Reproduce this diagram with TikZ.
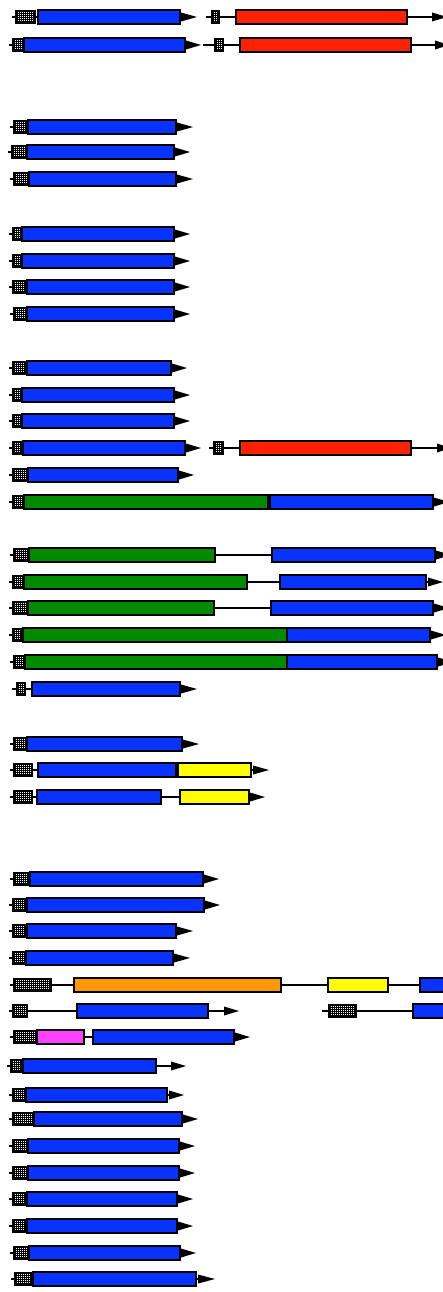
\documentclass[tikz,border=0pt]{standalone}
\definecolor{gblue}{RGB}{8,51,255}
\definecolor{gred}{RGB}{255,34,0}
\definecolor{ggreen}{RGB}{0,138,0}
\definecolor{gyellow}{RGB}{255,255,0}
\definecolor{gorange}{RGB}{255,153,0}
\definecolor{gpink}{RGB}{255,64,255}
\tikzset{
  bb/.style={line width=1.4pt,black},
  exon/.style={line width=1.3pt,draw=black},
  dotcell/.style={white}
}
% backbone with arrow: y, xstart, xarrow, xtip
\newcommand\gene[4]{\draw[bb] (#2,#1) -- (#3,#1);
  \fill[black] (#3,#1-4.5) -- (#4,#1) -- (#3,#1+4.5) -- cycle;}
% backbone only: y, xstart, xend
\newcommand\gbone[3]{\draw[bb] (#2,#1) -- (#3,#1);}
% untranslated box: y, x1, x2
\newcommand\utrbox[3]{\fill[black] (#2,#1-7) rectangle (#3,#1+7);
  \pgfmathsetmacro\ua{#2+2.6}\pgfmathsetmacro\ub{#3-3.4}%
  \pgfmathsetmacro\uc{\ua+2}%
  \foreach \xx in {\ua,\uc,...,\ub}{\foreach \yy in {-4.2,-2.2,-0.2,1.8,3.8}{%
    \fill[dotcell] (\xx,#1+\yy) rectangle +(1.2,-1.2);}}}
% exon box: y, x1, x2, colour
\newcommand\exonbox[4]{\draw[exon,fill=#4] (#2,#1-7) rectangle (#3,#1+7);}
\begin{document}
\begin{tikzpicture}[x=1pt,y=-1pt]
\useasboundingbox (0,0) rectangle (443,1292);
% 1
\gene{17}{12}{181}{197}\utrbox{17}{15}{36}\exonbox{17}{38}{180}{gblue}
\gene{17}{206}{432}{447}\utrbox{17}{211}{220}\exonbox{17}{236}{407}{gred}
% 2
\gene{45}{9}{186}{201}\utrbox{45}{12}{24}\exonbox{45}{24}{185}{gblue}
\gene{45}{203}{435}{449}\utrbox{45}{214}{224}\exonbox{45}{240}{411}{gred}
% 3-5
\gene{127}{10}{177}{193}\utrbox{127}{13}{28}\exonbox{127}{28}{176}{gblue}
\gene{152}{8}{175}{190}\utrbox{152}{11}{27}\exonbox{152}{27}{174}{gblue}
\gene{179}{10}{177}{193}\utrbox{179}{13}{29}\exonbox{179}{29}{176}{gblue}
% 6-9
\gene{234}{9}{175}{190}\utrbox{234}{12}{22}\exonbox{234}{22}{174}{gblue}
\gene{261}{9}{175}{190}\utrbox{261}{12}{22}\exonbox{261}{22}{174}{gblue}
\gene{287}{9}{175}{190}\utrbox{287}{12}{27}\exonbox{287}{27}{174}{gblue}
\gene{314}{10}{175}{190}\utrbox{314}{13}{27}\exonbox{314}{27}{174}{gblue}
% 10-15
\gene{368}{9}{172}{187}\utrbox{368}{12}{27}\exonbox{368}{27}{171}{gblue}
\gene{395}{9}{175}{190}\utrbox{395}{12}{22}\exonbox{395}{22}{174}{gblue}
\gene{421}{9}{175}{190}\utrbox{421}{12}{22}\exonbox{421}{22}{174}{gblue}
\gene{448}{9}{186}{201}\utrbox{448}{12}{23}\exonbox{448}{23}{185}{gblue}
\gene{448}{209}{437}{451}\utrbox{448}{213}{224}\exonbox{448}{240}{411}{gred}
\gene{475}{9}{179}{194}\utrbox{475}{12}{28}\exonbox{475}{28}{178}{gblue}
\gene{502}{9}{434}{449}\utrbox{502}{12}{24}\exonbox{502}{24}{268}{ggreen}\exonbox{502}{270}{433}{gblue}
% 16-21
\gene{555}{10}{436}{451}\utrbox{555}{13}{29}\exonbox{555}{29}{215}{ggreen}\exonbox{555}{272}{435}{gblue}
\gene{582}{9}{428}{443}\utrbox{582}{12}{24}\exonbox{582}{24}{247}{ggreen}\exonbox{582}{280}{426}{gblue}
\gene{608}{9}{434}{449}\utrbox{608}{12}{28}\exonbox{608}{28}{214}{ggreen}\exonbox{608}{271}{433}{gblue}
\gene{635}{9}{431}{446}\utrbox{635}{12}{23}\exonbox{635}{23}{287}{ggreen}\exonbox{635}{287}{430}{gblue}
\gene{662}{10}{438}{453}\utrbox{662}{13}{25}\exonbox{662}{25}{287}{ggreen}\exonbox{662}{287}{437}{gblue}
\gene{689}{12}{181}{197}\utrbox{689}{16}{26}\exonbox{689}{32}{180}{gblue}
% 22-24
\gene{744}{10}{183}{199}\utrbox{744}{13}{27}\exonbox{744}{27}{182}{gblue}
\gene{770}{10}{253}{269}\utrbox{770}{13}{33}\exonbox{770}{38}{176}{gblue}\exonbox{770}{178}{251}{gyellow}
\gene{797}{10}{250}{265}\utrbox{797}{13}{33}\exonbox{797}{37}{161}{gblue}\exonbox{797}{180}{249}{gyellow}
% 25-31
\gene{879}{10}{204}{219}\utrbox{879}{13}{30}\exonbox{879}{30}{203}{gblue}
\gene{905}{9}{205}{220}\utrbox{905}{12}{27}\exonbox{905}{27}{204}{gblue}
\gene{931}{9}{177}{193}\utrbox{931}{12}{27}\exonbox{931}{27}{176}{gblue}
\gene{958}{9}{174}{190}\utrbox{958}{12}{26}\exonbox{958}{26}{173}{gblue}
\gbone{985}{10}{443}\utrbox{985}{13}{52}\exonbox{985}{74}{281}{gorange}\exonbox{985}{328}{388}{gyellow}\exonbox{985}{420}{460}{gblue}
\gene{1011}{9}{224}{239}\utrbox{1011}{12}{28}\exonbox{1011}{77}{208}{gblue}
\gbone{1011}{322}{443}\utrbox{1011}{328}{357}\exonbox{1011}{413}{460}{gblue}
\gene{1037}{10}{235}{250}\utrbox{1037}{13}{37}\exonbox{1037}{37}{84}{gpink}\exonbox{1037}{93}{234}{gblue}
% 32-40
\gene{1066}{7}{171}{186}\utrbox{1066}{10}{23}\exonbox{1066}{23}{156}{gblue}
\gene{1095}{9}{169}{184}\utrbox{1095}{12}{26}\exonbox{1095}{26}{167}{gblue}
\gene{1119}{9}{183}{198}\utrbox{1119}{12}{34}\exonbox{1119}{34}{182}{gblue}
\gene{1146}{9}{180}{195}\utrbox{1146}{12}{28}\exonbox{1146}{28}{179}{gblue}
\gene{1173}{9}{180}{195}\utrbox{1173}{12}{28}\exonbox{1173}{28}{179}{gblue}
\gene{1199}{9}{178}{193}\utrbox{1199}{12}{27}\exonbox{1199}{27}{177}{gblue}
\gene{1226}{9}{178}{193}\utrbox{1226}{12}{27}\exonbox{1226}{27}{177}{gblue}
\gene{1253}{10}{181}{196}\utrbox{1253}{13}{29}\exonbox{1253}{29}{180}{gblue}
\gene{1279}{11}{198}{215}\utrbox{1279}{14}{33}\exonbox{1279}{33}{196}{gblue}
\end{tikzpicture}
\end{document}
